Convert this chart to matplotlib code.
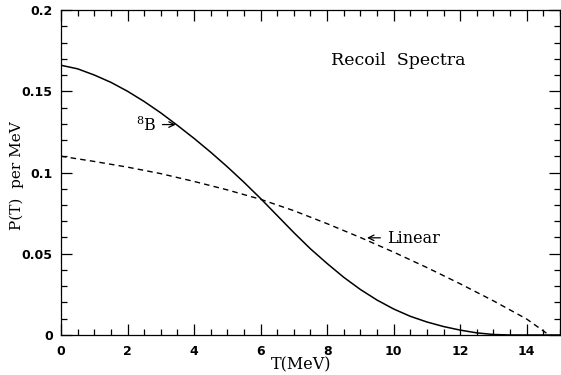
import matplotlib.pyplot as plt
from matplotlib.ticker import MultipleLocator

# 8B recoil spectrum (solid)
T_b8 = [0, 0.5, 1, 1.5, 2, 2.5, 3, 3.5, 4, 4.5, 5, 5.5, 6, 6.5, 7, 7.5, 8,
        8.5, 9, 9.5, 10, 10.5, 11, 11.5, 12, 12.5, 13, 13.5, 15]
P_b8 = [0.166, 0.1638, 0.160, 0.1555, 0.150, 0.1437, 0.1367, 0.129, 0.121,
        0.1125, 0.1035, 0.094, 0.084, 0.0735, 0.063, 0.053, 0.044, 0.0355,
        0.028, 0.0215, 0.016, 0.0115, 0.008, 0.0052, 0.003, 0.0013, 0.0003,
        0.0, 0.0]

# linear spectrum (dashed)
T_lin = [0, 1, 2, 3, 4, 5, 6, 7, 8, 9, 10, 11, 12, 13, 14, 14.67]
P_lin = [0.110, 0.1068, 0.1033, 0.0993, 0.0945, 0.0893, 0.0835, 0.0765,
         0.0685, 0.060, 0.051, 0.0415, 0.0315, 0.021, 0.0098, 0.0]

serif = "DejaVu Serif"

fig = plt.figure(figsize=(5.61, 3.75), dpi=100)
ax = fig.add_axes([0.1087, 0.1067, 0.8895, 0.8666])

ax.plot(T_b8, P_b8, color="black", lw=1.1)
ax.plot(T_lin, P_lin, color="black", lw=1.0, linestyle=(0, (4, 3)))

ax.set_xlim(0, 15)
ax.set_ylim(0, 0.2)
ax.xaxis.set_minor_locator(MultipleLocator(0.5))
ax.yaxis.set_minor_locator(MultipleLocator(0.01))
ax.set_xticks([0, 2, 4, 6, 8, 10, 12, 14])
ax.set_xticklabels(["0", "2", "4", "6", "8", "10", "12", "14"])
ax.set_yticks([0, 0.05, 0.1, 0.15, 0.2])
ax.set_yticklabels(["0", "0.05", "0.1", "0.15", "0.2"])

ax.tick_params(which="both", direction="in", top=True, right=True, width=0.9)
ax.tick_params(which="major", length=8, labelsize=9, pad=6)
ax.tick_params(axis="x", which="major", pad=7)
ax.tick_params(which="minor", length=4)
for lab in ax.get_xticklabels() + ax.get_yticklabels():
    lab.set_fontweight("bold")
    lab.set_family("DejaVu Sans")
for sp in ax.spines.values():
    sp.set_linewidth(0.9)

ax.set_xlabel("T(MeV)", family=serif, fontsize=11.5)
ax.xaxis.set_label_coords(0.481, -0.067)
ax.set_ylabel("P(T)  per MeV", family=serif, fontsize=11)
ax.yaxis.set_label_coords(-0.074, 0.49)

ax.text(10.15, 0.169, "Recoil  Spectra", family=serif, fontsize=12.5,
        ha="center", va="center")

ax.text(2.55, 0.129, "$^{8}$B", family=serif, fontsize=11.5,
        ha="center", va="center", math_fontfamily="dejavuserif")
ax.annotate("", xy=(3.45, 0.1295), xytext=(3.05, 0.1295),
            arrowprops=dict(arrowstyle="->", lw=0.9, color="black",
                            shrinkA=0, shrinkB=0))

ax.text(9.8, 0.0595, "Linear", family=serif, fontsize=11.5,
        ha="left", va="center")
ax.annotate("", xy=(9.2, 0.0598), xytext=(9.6, 0.0598),
            arrowprops=dict(arrowstyle="->", lw=0.9, color="black",
                            shrinkA=0, shrinkB=0))

fig.savefig("out.png", dpi=100)
